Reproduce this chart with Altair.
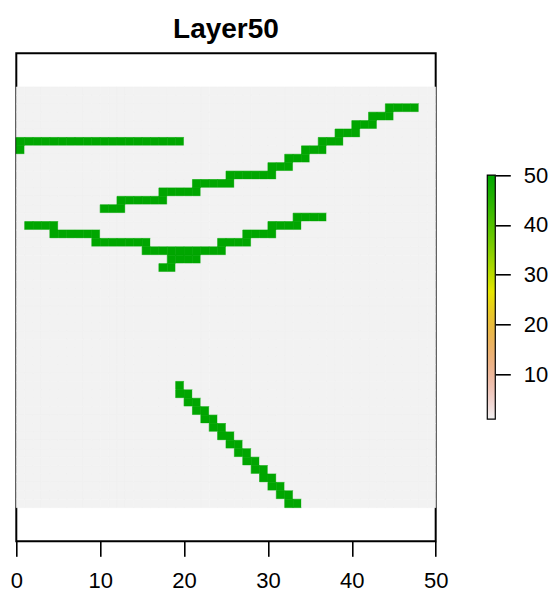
import colorsys
import altair as alt
import pandas as pd

# ---- data ----
title_text = "Layer50"
n_rows = 50
n_cols = 50
background_value = 1
line_value = 50

# horizontal runs of line cells: row (0 = top), first column, last column
seg_rows = [6, 7,
            2, 3, 4, 5, 6, 7, 8, 9, 10, 11, 12, 13, 14,
            15, 16, 16, 17, 17, 18, 18, 19, 20, 21,
            35, 36, 37, 38, 39, 40, 41, 42, 43, 44, 45, 46, 47, 48, 49]
seg_c0 = [0, 0,
          44, 42, 40, 38, 36, 34, 32, 30, 25, 21, 17, 12, 10,
          33, 30, 1, 4, 27, 9, 24, 15, 18, 17,
          19, 19, 20, 21, 22, 23, 24, 25, 26, 27, 28, 29, 30, 31, 32]
seg_c1 = [19, 0,
          47, 44, 42, 40, 38, 36, 34, 32, 30, 25, 21, 17, 12,
          36, 33, 4, 9, 30, 15, 27, 24, 21, 18,
          19, 20, 21, 22, 23, 24, 25, 26, 27, 28, 29, 30, 31, 32, 33]

x_ticks = [0, 10, 20, 30, 40, 50]
legend_ticks = [10, 20, 30, 40, 50]
legend_min = 1
legend_max = 50

# ---- build the raster table ----
grid = [[background_value] * n_cols for _ in range(n_rows)]
for r, a, b in zip(seg_rows, seg_c0, seg_c1):
    for c in range(a, b + 1):
        grid[r][c] = line_value

cells = []
for r in range(n_rows):
    for c in range(n_cols):
        cells.append({"x0": c, "x1": c + 1,
                      "y0": n_rows - 1 - r, "y1": n_rows - r,
                      "v": grid[r][c]})
df = pd.DataFrame(cells)


# R terrain.colors, reversed (low = light grey, high = green)
def terrain_colors(n):
    k = n // 2
    out = []
    def lin(a, b, m):
        return [a + (b - a) * i / (m - 1) for i in range(m)]
    hs, ss, vs = lin(4/12, 2/12, k), lin(1, 1, k), lin(0.65, 0.9, k)
    for h, s, v in zip(hs, ss, vs):
        out.append(colorsys.hsv_to_rgb(h, s, v))
    m = n - k + 1
    hs, ss, vs = lin(2/12, 0, m)[1:], lin(1, 0, m)[1:], lin(0.9, 0.95, m)[1:]
    for h, s, v in zip(hs, ss, vs):
        out.append(colorsys.hsv_to_rgb(h, s, v))
    return ["#%02X%02X%02X" % tuple(round(x * 255) for x in rgb) for rgb in out]


ramp = terrain_colors(24)[::-1]
stops = [alt.GradientStop(offset=i / (len(ramp) - 1), color=col) for i, col in enumerate(ramp)]

W = 419.4
H = 488
font = "Liberation Sans"
bar_left = 471.0   # colour bar left edge, relative to the plot's left edge
bar_w = 8.0

color_scale = alt.Scale(domain=[legend_min, legend_max], range=[ramp[0], ramp[-1]])

raster = alt.Chart(df).mark_rect(strokeWidth=0.6).encode(
    x=alt.X("x0:Q", scale=alt.Scale(domain=[0, 50], nice=False, zero=False),
            axis=alt.Axis(values=x_ticks, title=None, grid=False, domain=False,
                          tickSize=15, tickWidth=1.6, tickColor="black",
                          labelFontSize=22, labelFont=font, labelColor="black",
                          labelPadding=14, labelFlush=False, labelOverlap=False)),
    x2="x1:Q",
    y=alt.Y("y0:Q", scale=alt.Scale(domain=[-4, 54], nice=False, zero=False), axis=None),
    y2="y1:Q",
    color=alt.Color("v:Q", scale=color_scale, legend=None),
    stroke=alt.Stroke("v:Q", scale=color_scale, legend=None),
)

bar_df = pd.DataFrame({"bx0": [0], "bx1": [1], "lo": [legend_min], "hi": [legend_max]})
d0 = -bar_left / bar_w
bar = alt.Chart(bar_df).mark_rect(
    fill=alt.Gradient(gradient="linear", stops=stops, x1=0, x2=0, y1=1, y2=0),
    stroke="black", strokeWidth=1.2,
).encode(
    x=alt.X("bx0:Q", scale=alt.Scale(domain=[d0, d0 + W / bar_w], nice=False, zero=False), axis=None),
    x2="bx1:Q",
    y=alt.Y("lo:Q", scale=alt.Scale(domain=[-23.5, 74.44], nice=False, zero=False),
            axis=alt.Axis(orient="right", values=legend_ticks, offset=bar_left + bar_w - W,
                          title=None, grid=False, domain=False,
                          tickSize=15, tickWidth=1.6, tickColor="black",
                          labelFontSize=22, labelFont=font, labelColor="black",
                          labelPadding=13)),
    y2="hi:Q",
)

chart = alt.layer(raster, bar).resolve_scale(
    x="independent", y="independent"
).properties(
    width=W, height=H,
    title=alt.TitleParams(title_text, fontSize=28, fontWeight="bold", font=font,
                          anchor="middle", offset=9, color="black"),
    autosize=alt.AutoSizeParams(type="none"),
    padding={"left": 8.3, "top": 45.3, "right": 112, "bottom": 56},
).configure_view(stroke="black", strokeWidth=2)

chart.save("out.html", embed_options={"renderer": "svg", "actions": False})
